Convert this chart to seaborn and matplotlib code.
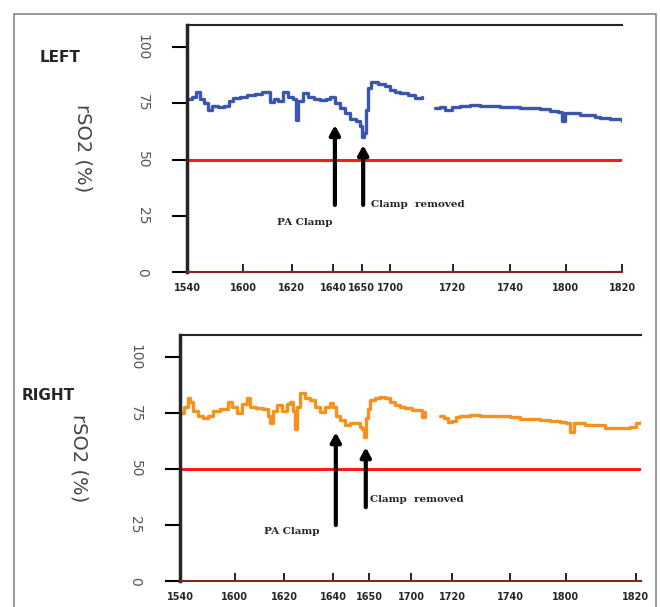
import numpy as np
import pandas as pd
import matplotlib
matplotlib.use("Agg")
import matplotlib.pyplot as plt
import seaborn as sns
from matplotlib.patches import Rectangle

# Clock-time tick labels (the axis is not linear in time)
tick_labels = ['1540', '1600', '1620', '1640', '1650', '1700', '1720', '1740', '1800', '1820']
left_ticks = [0, 12.9, 24.1, 33.6, 40.2, 46.7, 61.1, 74.3, 87.1, 100]
right_ticks = [0, 11.9, 22.6, 33.2, 41.0, 50.1, 59.0, 71.6, 83.7, 98.9]

# LEFT rSO2 (%), NaN marks the recording gap
left_pos = [0, 1.2, 2.1, 3.0, 3.9, 4.8, 5.8, 7.1, 8.5, 9.7, 10.6, 12.2, 13.8, 15.6, 17.2, 18.4,
            19.1, 20.0, 20.9, 22.1, 23.2, 24.4, 25.1, 25.5, 26.7, 27.8, 29.2, 30.6, 32.0, 32.9,
            34.0, 35.2, 36.3, 37.5, 38.9, 39.8, 40.2, 40.7, 41.2, 41.6, 42.3, 43.9, 45.5, 46.7,
            47.8, 49.0, 50.8, 52.4, 54.0, 55.5,
            57.0, 58.2, 59.3, 60.9, 62.8, 65.1, 67.4, 69.7, 72.0, 74.3, 76.6, 78.9, 81.2, 83.5,
            85.3, 86.2, 86.9, 89.2, 90.3, 92.6, 93.8, 94.9, 97.2, 99.1, 100]
left_val = [77, 78, 80, 77, 75, 72, 74, 73.5, 74, 76, 77.5, 78, 78.7, 79, 80, 80,
            75.5, 77, 76, 80, 78, 77, 67.5, 76, 79.5, 78, 77, 76.4, 77, 78,
            75, 73, 70.5, 68, 67, 65, 60, 62, 72, 82, 84.5, 83.5, 82.5, 81,
            80, 79.5, 78.5, 77.5, 78, np.nan,
            72.8, 73.5, 72, 73.5, 74, 74.2, 73.8, 73.8, 73.5, 73.2, 73, 72.8, 72.3, 71.5,
            71, 67, 70.5, 70.6, 69.8, 70, 69, 68.3, 68, 67.8, 67]

# RIGHT rSO2 (%)
right_pos = [0, 0.9, 1.7, 2.2, 2.8, 3.9, 5.0, 6.1, 7.2, 8.7, 10.4, 11.3, 12.4, 13.5, 14.5, 15.2,
             16.5, 18.0, 19.1, 19.5, 20.2, 21.0, 22.1, 23.2, 23.9, 24.5, 25.0, 25.4, 26.0, 27.1,
             28.2, 29.3, 30.4, 31.5, 32.5, 33.2, 33.8, 34.7, 35.8, 36.9, 38.0, 39.1, 39.5, 39.9,
             40.4, 40.8, 41.2, 42.3, 43.4, 44.5, 45.6, 46.6, 47.7, 48.8, 50.3, 52.1, 52.5, 53.2,
             54.5,
             56.4, 57.3, 58.1, 59.0, 59.9, 60.7, 62.9, 65.1, 67.3, 69.4, 71.6, 73.8, 75.9, 78.1,
             80.3, 82.4, 83.7, 84.6, 85.5, 86.8, 87.9, 88.9, 91.1, 92.2, 94.4, 96.5, 97.6, 98.9,
             100]
right_val = [75, 78, 81.7, 80, 76, 74, 73, 74, 76, 77, 80, 78, 75, 79, 81.7, 77.7,
             77.5, 77, 74, 70.5, 76, 78.6, 76, 79, 80, 76, 68, 78, 84, 82,
             81, 78, 75.5, 78, 79.5, 77.7, 74, 72, 69.6, 70.5, 70.5, 69, 68, 64.3,
             73, 77, 81, 82, 82.5, 81.7, 80, 78.6, 78, 77.2, 76.5, 76.3, 73.5, 75.5,
             np.nan,
             74, 73, 71, 71.5, 73.5, 74, 74.3, 74, 74, 73.6, 73.2, 72.6, 72.3, 72,
             71.5, 71, 70.5, 66.5, 70.5, 70.5, 69.8, 69.6, 69.8, 68.3, 68.3, 68.5, 69, 70.5,
             71]

threshold = 50


def make_frame(pos, val):
    df = pd.DataFrame({'pos': pos, 'val': val})
    df['seg'] = df['val'].isna().cumsum()
    return df.dropna()


def draw_panel(ax, df, color, ticks, side, pa, removed):
    sns.lineplot(data=df, x='pos', y='val', units='seg', estimator=None,
                 color=color, lw=2.4, drawstyle='steps-post', ax=ax)
    ax.axhline(threshold, color='#ff1a1a', lw=2.2, zorder=1)

    ax.set_xlim(0, 100)
    ax.set_ylim(0, 110)
    ax.set_yticks([0, 25, 50, 75, 100])
    ax.set_yticklabels(['0', '25', '50', '75', '100'], rotation=270,
                       va='center', color='#555555', fontsize=10)
    ax.tick_params(axis='y', left=True, length=11, width=1.5, color='black',
                   direction='out', pad=16)
    ax.set_xticks(ticks)
    ax.set_xticklabels(tick_labels, fontsize=7, fontweight='bold')
    ax.tick_params(axis='x', bottom=True, length=6, width=1.2, color='black',
                   direction='in', pad=8)

    ax.spines['right'].set_visible(False)
    ax.spines['left'].set_linewidth(2.5)
    ax.spines['top'].set_linewidth(1.5)
    ax.spines['bottom'].set_color('#8b2020')
    ax.spines['bottom'].set_linewidth(1.5)
    ax.set_xlabel('')
    ax.set_ylabel('rSO2 (%)', rotation=270, fontsize=14, color='#444444')
    ax.yaxis.set_label_coords(side, 0.5)

    arrow = dict(arrowstyle='-|>,head_width=0.3,head_length=0.55', lw=3, color='black',
                 shrinkA=0, shrinkB=0)
    for (x, y0, y1) in (pa[:3], removed[:3]):
        ax.annotate('', xy=(x, y1), xytext=(x, y0), arrowprops=arrow)
    ax.text(pa[3], pa[4], 'PA Clamp', family='DejaVu Serif', fontweight='bold',
            fontsize=7.5, ha='center', va='center')
    ax.text(removed[3], removed[4], 'Clamp  removed', family='DejaVu Serif', fontweight='bold',
            fontsize=7.5, ha='left', va='center')


sns.set_style('white')
fig = plt.figure(figsize=(6.6, 6.07), dpi=100)
fig.patches.append(Rectangle((14 / 660, -0.05), 642 / 660, 1.05 - 14 / 607,
                             transform=fig.transFigure, fill=False,
                             edgecolor='#888888', lw=1.2))

ax1 = fig.add_axes([187 / 660, 1 - 272 / 607, 435 / 660, 247.5 / 607])
ax2 = fig.add_axes([180 / 660, 1 - 581 / 607, 461 / 660, 246 / 607])

draw_panel(ax1, make_frame(left_pos, left_val), '#3a56b0', left_ticks, -0.26,
           (34.0, 29.8, 65.3, 27.1, 22.2), (40.5, 29.8, 56.4, 42.3, 29.8))
draw_panel(ax2, make_frame(right_pos, right_val), '#f7911e', right_ticks, -0.24,
           (33.8, 25.0, 66.5, 24.3, 22.3), (40.3, 33.0, 59.8, 41.2, 36.6))

fig.text(40 / 660, 1 - 58 / 607, 'LEFT', fontsize=11, fontweight='bold', va='center')
fig.text(22 / 660, 1 - 395 / 607, 'RIGHT', fontsize=11, fontweight='bold', va='center')

fig.savefig('out.png', dpi=100)
